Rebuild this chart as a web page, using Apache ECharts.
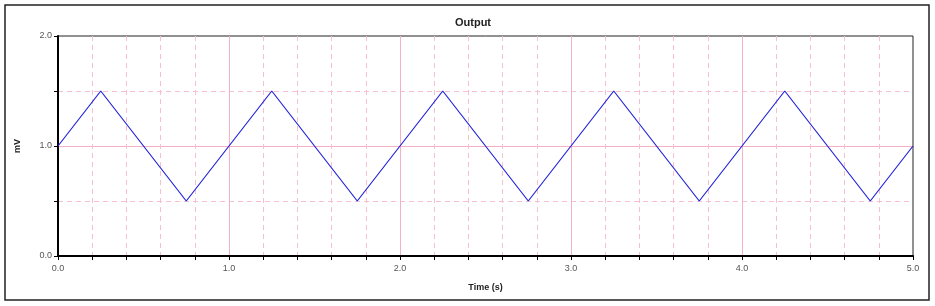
<!DOCTYPE html>
<html><head><meta charset="utf-8">
<script src="https://cdn.jsdelivr.net/npm/echarts@6/dist/echarts.min.js"></script>
<style>html,body{margin:0;padding:0;background:#fff}#c{width:935px;height:306px}</style>
</head><body><div id="c"></div>
<script>
const timeValues = [0, 0.25, 0.75, 1.25, 1.75, 2.25, 2.75, 3.25, 3.75, 4.25, 4.75, 5.0];
const outputValues = [1.0, 1.5, 0.5, 1.5, 0.5, 1.5, 0.5, 1.5, 0.5, 1.5, 0.5, 1.0];
const xTickLabels = ['0.0', '1.0', '2.0', '3.0', '4.0', '5.0'];
const yTickLabels = ['0.0', '1.0', '2.0'];

const chart = echarts.init(document.getElementById('c'), null, {renderer: 'canvas'});
const data = timeValues.map((t, i) => [t, outputValues[i]]);
const pink = '#f4b0c4';
const pinkLight = '#f6c0d0';
const font = 'Liberation Sans, Arial, sans-serif';

chart.setOption({
  animation: false,
  title: {
    text: 'Output', left: 468, top: 12, textAlign: 'center',
    textStyle: {fontFamily: font, fontSize: 11, fontWeight: 'bold', color: '#222'}
  },
  graphic: [{
    type: 'rect', shape: {x: 5, y: 5, width: 924, height: 295},
    style: {fill: 'none', stroke: '#222', lineWidth: 1.5}, silent: true, z: -1
  }],
  grid: {left: 58, top: 36, width: 855, height: 220, containLabel: false,
    show: true, borderColor: '#222', borderWidth: 1, backgroundColor: 'transparent'},
  xAxis: {
    type: 'value', min: 0, max: 5, interval: 1,
    name: 'Time (s)', nameLocation: 'middle', nameGap: 27,
    nameTextStyle: {fontFamily: font, fontSize: 9, fontWeight: 'bold', color: '#222'},
    axisLine: {onZero: false, lineStyle: {color: '#000', width: 2}},
    axisTick: {show: true, length: 4, lineStyle: {color: '#000', width: 1}},
    minorTick: {show: true, splitNumber: 5, length: 4, lineStyle: {color: '#000', width: 1}},
    axisLabel: {formatter: v => v.toFixed(1), fontFamily: font, fontSize: 9, color: '#555', margin: 8, showMinLabel: true, showMaxLabel: true},
    splitLine: {show: true, showMinLine: false, showMaxLine: false, lineStyle: {color: pink, width: 1, type: 'solid'}},
    minorSplitLine: {show: true, lineStyle: {color: pinkLight, width: 1, type: [5, 4]}}
  },
  yAxis: {
    type: 'value', min: 0, max: 2, interval: 1,
    name: 'mV', nameLocation: 'middle', nameGap: 36, nameRotate: 90,
    nameTextStyle: {fontFamily: font, fontSize: 9, fontWeight: 'bold', color: '#222'},
    axisLine: {show: true, onZero: false, lineStyle: {color: '#000', width: 2}},
    axisTick: {show: true, length: 4, lineStyle: {color: '#000'}},
    minorTick: {show: true, splitNumber: 2, length: 4, lineStyle: {color: '#000'}},
    axisLabel: {formatter: v => v.toFixed(1), fontFamily: font, fontSize: 9, color: '#555', margin: 6, showMinLabel: true, showMaxLabel: true},
    splitLine: {show: true, showMinLine: false, showMaxLine: false, lineStyle: {color: pink, width: 1, type: 'solid'}},
    minorSplitLine: {show: true, lineStyle: {color: pinkLight, width: 1, type: [5, 4]}}
  },
  series: [{
    type: 'line', data: data,
    symbol: 'none', lineStyle: {color: '#2222dd', width: 1.2}, z: 5
  }]
});
</script></body></html>
